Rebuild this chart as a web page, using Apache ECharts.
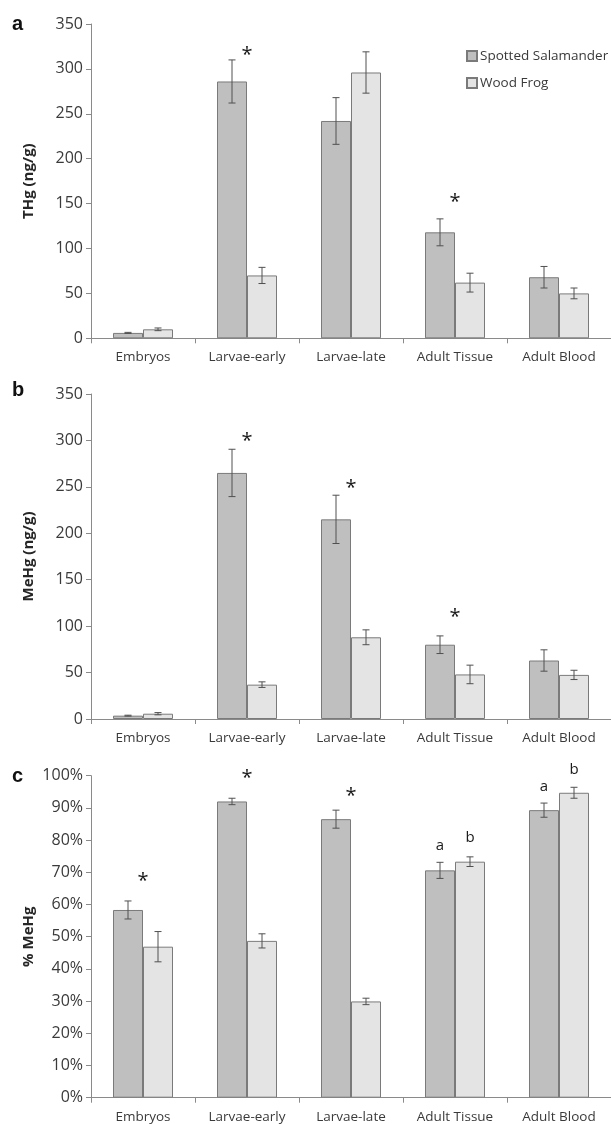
<!DOCTYPE html>
<html>
<head>
<meta charset="utf-8">
<script src="https://cdn.jsdelivr.net/npm/echarts@6/dist/echarts.min.js"></script>
<style>
html,body{margin:0;padding:0;background:#fff;}
#chart{width:611px;height:1124px;}
</style>
</head>
<body>
<div id="chart"></div>
<script>
// ---- data ----
const categories = ['Embryos', 'Larvae-early', 'Larvae-late', 'Adult Tissue', 'Adult Blood'];
const seriesNames = ['Spotted Salamander', 'Wood Frog'];

// Panel a: THg (ng/g)
const thgSS = [6, 286, 242, 118, 68];
const thgSSErr = [0.6, 24, 26, 15, 12];
const thgWF = [10, 70, 296, 62, 50];
const thgWFErr = [1.5, 9, 23, 10.5, 6];
// annotations: [category index, value, bar (-1 SS, 0 centre, 1 WF), text]
const thgNotes = [[1, 321, 0, '*'], [3, 157, 0, '*']];

// Panel b: MeHg (ng/g)
const mehgSS = [3.6, 265, 215, 80, 63];
const mehgSSErr = [0.5, 25.5, 26, 9.5, 11.5];
const mehgWF = [5.7, 37, 88, 48, 47.5];
const mehgWFErr = [1.2, 3, 8, 10, 5];
const mehgNotes = [[1, 304, 0, '*'], [2, 254, 0, '*'], [3, 115, 0, '*']];

// Panel c: % MeHg
const pctSS = [58.3, 92.0, 86.5, 70.6, 89.3];
const pctSSErr = [2.8, 1.0, 2.8, 2.5, 2.2];
const pctWF = [46.9, 48.7, 29.9, 73.3, 94.7];
const pctWFErr = [4.7, 2.2, 1.0, 1.5, 1.7];
const pctNotes = [[0, 68.7, 0, '*'], [1, 100.7, 0, '*'], [2, 95.2, 0, '*'],
                  [3, 78.2, -1, 'a'], [3, 80.8, 1, 'b'], [4, 96.7, -1, 'a'], [4, 102, 1, 'b']];

const yTitles = ['THg (ng/g)', 'MeHg (ng/g)', '% MeHg'];
const panelLetters = ['a', 'b', 'c'];

// ---- style ----
const FONT = '"Open Sans", sans-serif';
const ssFill = '#bfbfbf', wfFill = '#e4e4e4', barBorder = '#7a7a7a';
const axisColor = '#8a8a8a', textColor = '#3a3a3a', errColor = '#505050';
const BAR_W = 30;

const grids = [
  {left: 91, width: 522, top: 24, height: 314.3},
  {left: 91, width: 522, top: 394, height: 325},
  {left: 91, width: 522, top: 775.7, height: 322}
];

const panels = [
  {ss: thgSS, ssE: thgSSErr, wf: thgWF, wfE: thgWFErr, notes: thgNotes, max: 350, interval: 50, fmt: '{value}'},
  {ss: mehgSS, ssE: mehgSSErr, wf: mehgWF, wfE: mehgWFErr, notes: mehgNotes, max: 350, interval: 50, fmt: '{value}'},
  {ss: pctSS, ssE: pctSSErr, wf: pctWF, wfE: pctWFErr, notes: pctNotes, max: 100, interval: 10, fmt: '{value}%'}
];

const xAxes = [], yAxes = [], series = [];
panels.forEach((p, i) => {
  xAxes.push({
    type: 'category', gridIndex: i, data: categories,
    axisLine: {lineStyle: {color: axisColor, width: 1}},
    axisTick: {show: true, length: 5, lineStyle: {color: axisColor}},
    axisLabel: {color: textColor, fontFamily: FONT, fontSize: 13.5, margin: 12}
  });
  yAxes.push({
    type: 'value', gridIndex: i, min: 0, max: p.max, interval: p.interval,
    name: yTitles[i], nameLocation: 'middle', nameGap: 55, nameRotate: 90,
    nameMoveOverlap: false,
    nameTextStyle: {color: '#262626', fontFamily: FONT, fontSize: 15, fontWeight: 'bold'},
    axisLine: {show: true, lineStyle: {color: axisColor, width: 1}},
    axisTick: {show: true, length: 5, lineStyle: {color: axisColor}},
    splitLine: {show: false},
    axisLabel: {color: textColor, fontFamily: FONT, fontSize: 16, margin: 8, formatter: p.fmt}
  });
  series.push({
    type: 'bar', name: seriesNames[0], xAxisIndex: i, yAxisIndex: i, data: p.ss,
    barWidth: BAR_W, barGap: '0%',
    itemStyle: {color: ssFill, borderColor: barBorder, borderWidth: 1}
  });
  series.push({
    type: 'bar', name: seriesNames[1], xAxisIndex: i, yAxisIndex: i, data: p.wf,
    barWidth: BAR_W, barGap: '0%',
    itemStyle: {color: wfFill, borderColor: barBorder, borderWidth: 1}
  });
  const errData = [];
  p.ss.forEach((v, k) => errData.push([k, v, p.ssE[k], -1]));
  p.wf.forEach((v, k) => errData.push([k, v, p.wfE[k], 1]));
  series.push({
    type: 'custom', xAxisIndex: i, yAxisIndex: i, data: errData, z: 10, silent: true,
    encode: {x: 0, y: 1},
    renderItem: function (params, api) {
      const c = api.value(0), v = api.value(1), e = api.value(2), side = api.value(3);
      const dx = side * BAR_W / 2;
      const top = api.coord([c, v + e]), bot = api.coord([c, v - e]);
      const x = top[0] + dx;
      const cap = 3.5;
      const st = {stroke: errColor, lineWidth: 1};
      return {type: 'group', children: [
        {type: 'line', shape: {x1: x, y1: top[1], x2: x, y2: bot[1]}, style: st},
        {type: 'line', shape: {x1: x - cap, y1: top[1], x2: x + cap, y2: top[1]}, style: st},
        {type: 'line', shape: {x1: x - cap, y1: bot[1], x2: x + cap, y2: bot[1]}, style: st}
      ]};
    }
  });
  const notes = p.notes;
  series.push({
    type: 'custom', xAxisIndex: i, yAxisIndex: i, z: 11, silent: true,
    data: notes.map(n => [n[0], n[1], n[2]]),
    encode: {x: 0, y: 1},
    renderItem: function (params, api) {
      const n = notes[params.dataIndex];
      const pt = api.coord([n[0], n[1]]);
      const isStar = n[3] === '*';
      return {type: 'text', x: pt[0] + n[2] * BAR_W / 2, y: pt[1] + (isStar ? 5 : 0),
        style: {text: n[3], fill: '#1a1a1a', font: (isStar ? '20px ' : '15px ') + FONT,
          align: 'center', verticalAlign: 'middle'}};
    }
  });
});

const graphics = panelLetters.map((t, i) => ({
  type: 'text', left: 12, top: [14, 380, 766][i],
  style: {text: t, fill: '#111', font: 'bold 20px "Liberation Sans", Arial, sans-serif'}
}));

const chart = echarts.init(document.getElementById('chart'), null, {renderer: 'canvas'});
chart.setOption({
  animation: false,
  backgroundColor: '#ffffff',
  grid: grids,
  xAxis: xAxes,
  yAxis: yAxes,
  legend: {
    data: seriesNames, orient: 'vertical', left: 466, top: 48, padding: 0,
    itemWidth: 10, itemHeight: 10, itemGap: 11, icon: 'rect',
    textStyle: {color: textColor, fontFamily: FONT, fontSize: 13.5, lineHeight: 16, padding: [0, 0, 0, -2]},
    selectedMode: false
  },
  graphic: graphics,
  series: series
});
</script>
</body>
</html>
